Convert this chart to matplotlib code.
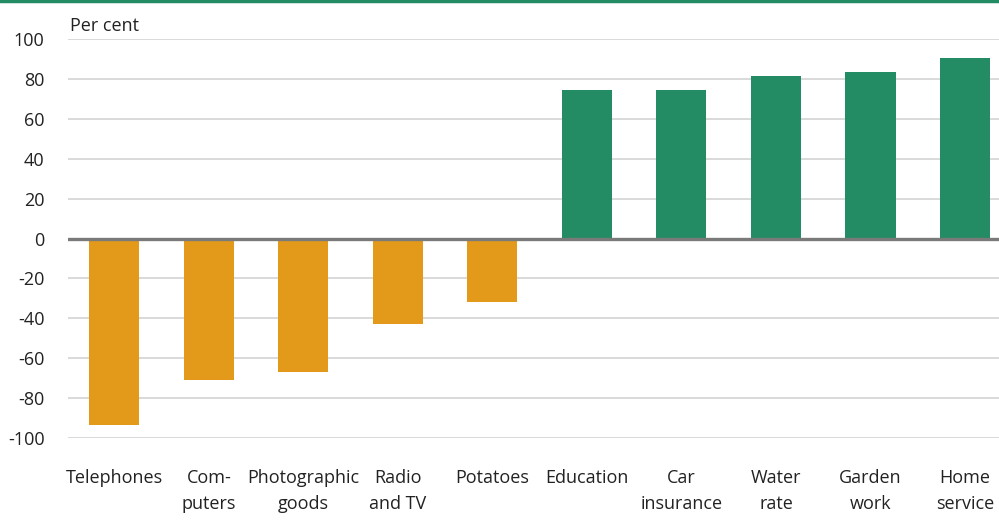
import matplotlib
matplotlib.use("Agg")
import matplotlib.pyplot as plt

categories = ["Telephones", "Com-\nputers", "Photographic\ngoods", "Radio\nand TV", "Potatoes",
              "Education", "Car\ninsurance", "Water\nrate", "Garden\nwork", "Home\nservice"]
values = [-93.5, -71, -67, -43, -32, 74.5, 74.5, 81.5, 83.5, 90.5]
yticks = [100, 80, 60, 40, 20, 0, -20, -40, -60, -80, -100]

ORANGE = "#E39A1A"
GREEN = "#238C64"

plt.rcParams['font.family'] = ['Open Sans', 'DejaVu Sans']
FS = 13

W, H = 999, 530
fig = plt.figure(figsize=(W/100, H/100), dpi=100)
left, right = 68/W, 999/W
top, bottom = 1 - 39/H, 1 - 438/H
ax = fig.add_axes([left, bottom, right-left, top-bottom])

colors = [ORANGE if v < 0 else GREEN for v in values]
x = list(range(len(categories)))
ax.bar(x, values, width=0.53, color=colors, zorder=3)

ax.set_ylim(-100, 100)
ax.set_xlim(-0.49, 9.36)
ax.set_yticks(yticks)
ax.set_yticklabels([str(t) for t in yticks], fontsize=FS, color="#222222")
ax.set_xticks(x)
ax.set_xticklabels(categories, fontsize=FS, color="#222222", linespacing=1.6)
ax.tick_params(axis='both', length=0)
ax.tick_params(axis='y', pad=17)
ax.tick_params(axis='x', pad=22)

for t in yticks:
    if t != 0:
        ax.axhline(t, color="#d9d9d9", lw=1.4, zorder=1)
ax.axhline(0, color="#7a7a7a", lw=2.4, zorder=4)

for s in ax.spines.values():
    s.set_visible(False)

fig.text(70/W, 1 - 26/H, "Per cent", fontsize=FS, color="#222222", va='center', ha='left')

# top green rule
fig.add_artist(plt.Line2D([0, 1], [1 - 1/H, 1 - 1/H], color=GREEN, lw=2.5, transform=fig.transFigure))

fig.savefig("out.png", dpi=100)
